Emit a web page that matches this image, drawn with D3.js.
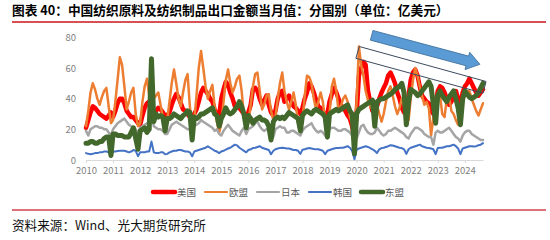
<!DOCTYPE html>
<html>
<head>
<meta charset="utf-8">
<script src="https://cdn.jsdelivr.net/npm/d3@7"></script>
<style>
  body { margin: 0; background: #fff; }
  svg { display: block; }
</style>
</head>
<body>
<svg id="chart" width="550" height="240"></svg>
<script>
// monthly values, Mar 2010 .. Nov 2024 (one row = Mar..Feb)
const firstMonth = new Date(2010, 2, 1);
const lastMonth = new Date(2024, 10, 1);
const yearLabels = [2010, 2011, 2012, 2013, 2014, 2015, 2016, 2017, 2018, 2019, 2020, 2021, 2022, 2023, 2024];
const yTicks = [0, 20, 40, 60, 80];
const seriesNames = ["美国", "欧盟", "日本", "韩国", "东盟"];

const usa = [
  21, 26, 31, 35, 34, 32, 30, 29, 28, 27, 29, 31,
  28, 32, 37, 40, 40, 37, 32, 30, 28, 28, 26, 24,
  23, 29, 34, 37, 38, 35, 32, 32, 34, 33, 31, 29,
  29, 31, 36, 40, 43, 41, 37, 33, 32, 30, 28, 24,
  30, 33, 38, 44, 47, 45, 43, 40, 38, 33, 30, 29,
  40, 46, 51, 49, 44, 40, 35, 34, 34, 32, 30, 29,
  31, 36, 46, 47, 45, 40, 36, 39, 42, 36, 31, 29,
  32, 40, 44, 45, 38, 40, 42, 38, 35, 34, 32, 30,
  34, 40, 44, 50, 48, 44, 39, 35, 34, 32, 29, 30,
  38, 43, 47, 44, 40, 36, 34, 32, 29, 27, 22, 14,
  30, 55, 60, 64, 62, 45, 38, 32, 31, 35, 40, 44,
  47, 50, 55, 57, 54, 50, 44, 40, 34, 31, 36, 42,
  52, 57, 59, 55, 48, 42, 40, 38, 37, 32, 30, 36,
  45, 48, 47, 44, 40, 36, 38, 42, 45, 40, 36, 44,
  48, 50, 53, 50, 47, 44, 42, 44, 46
];
const eu = [
  22, 32, 44, 50, 46, 40, 36, 41, 45, 47, 35, 24,
  26, 38, 52, 67, 62, 48, 33, 38, 44, 47, 30, 22,
  24, 38, 48, 53, 42, 38, 40, 42, 44, 36, 28, 25,
  26, 38, 50, 59, 50, 40, 35, 44, 52, 56, 35, 22,
  26, 42, 60, 71, 60, 48, 40, 45, 49, 35, 25, 18,
  24, 38, 52, 59, 50, 44, 48, 53, 55, 45, 28, 22,
  24, 36, 48, 56, 57, 45, 33, 36, 42, 43, 32, 26,
  28, 40, 50, 57, 45, 38, 33, 38, 44, 36, 24, 18,
  26, 42, 55, 54, 50, 40, 33, 38, 44, 38, 26, 18,
  30, 48, 53, 45, 32, 35, 40, 42, 38, 28, 24, 15,
  38, 74, 62, 55, 45, 39, 35, 33, 38, 36, 30, 25,
  30, 38, 45, 48, 42, 35, 30, 34, 40, 35, 28, 26,
  40, 52, 60, 55, 48, 42, 36, 38, 34, 16, 28, 32,
  40, 42, 30, 28, 40, 42, 32, 30, 26, 23, 30, 38,
  42, 45, 45, 40, 36, 32, 29, 33, 37
];
const japan = [
  19, 16, 20, 21, 22, 22, 21, 21, 20, 20, 18, 16,
  20, 22, 24, 25, 26, 27, 25, 23, 22, 21, 20, 17,
  21, 22, 23, 24, 23, 30, 22, 21, 20, 20, 19, 17,
  17, 20, 23, 24, 25, 24, 23, 22, 21, 20, 20, 17,
  22, 23, 24, 26, 25, 24, 23, 22, 21, 19, 20, 17,
  16, 19, 21, 23, 21, 19, 18, 17, 16, 19, 21, 17,
  20, 21, 22, 24, 25, 22, 20, 19, 20, 20, 18, 15,
  20, 21, 22, 21, 21, 18, 18, 19, 19, 18, 17, 16,
  19, 21, 22, 23, 24, 21, 19, 18, 19, 18, 16, 14,
  20, 21, 21, 20, 19, 19, 20, 20, 19, 18, 16, 14,
  14, 18, 22, 23, 20, 18, 17, 17, 18, 21, 19, 17,
  16, 17, 19, 19, 20, 21, 20, 19, 18, 17, 15, 14,
  17, 19, 21, 21, 20, 19, 17, 16, 15, 15, 10, 18,
  19, 18, 18, 19, 20, 21, 19, 17, 15, 14, 12, 16,
  18, 19, 19, 17, 16, 15, 14, 13, 13
];
const korea = [
  4.5, 4, 3.8, 4, 4.5, 4.5, 5, 5, 5.5, 5.5, 5, 2.4,
  5.5, 5.5, 5.8, 6, 6, 6, 5.5, 5, 5.5, 6.5, 6, 2.5,
  5, 5, 5, 5.5, 5.5, 12, 5, 4.5, 4.5, 5, 5, 3.8,
  4, 5, 5.5, 6, 6, 6.5, 6.5, 6, 5.5, 5.5, 5, 2.4,
  5.5, 6, 6.5, 7, 7.5, 8, 8.9, 8, 7, 6, 5.5, 4.5,
  5.5, 6, 6.7, 7.5, 8, 9, 10, 9.5, 8, 7, 6, 5,
  6.5, 7, 7.8, 8, 8.5, 9, 8, 7.5, 7, 6.5, 3.8, 6,
  7, 7.5, 7.8, 8, 7.8, 7.5, 7.5, 7, 6.5, 6.5, 6, 4,
  6.7, 7, 7.5, 7.8, 7.5, 7.2, 7, 7, 6.5, 6, 3.8, 6,
  6.5, 7, 7.5, 7.8, 7.8, 8, 8, 8.5, 9, 8, 6, 0.5,
  6.7, 7.5, 8, 8.5, 9, 8.5, 7.8, 7, 6, 4.5, 7, 7.8,
  8, 8.5, 9, 9.6, 9.5, 9, 8.5, 8, 7.8, 7, 4, 7,
  8, 8.5, 9, 9.5, 10, 9, 8.5, 8, 7.8, 7.5, 7, 3.8,
  7.8, 8, 8, 8.5, 9, 9, 9.5, 10, 9, 7.5, 3.8, 7.5,
  8, 8.5, 9, 9, 8.8, 9, 9.6, 10, 11
];
const asean = [
  11, 11, 12, 12, 11, 11, 12, 12, 14, 15, 15, 3,
  17, 17, 16, 16, 16, 15, 15, 15, 18, 21, 14, 7,
  19, 20, 21, 18, 20, 66, 25, 30, 28, 29, 28, 19,
  27, 27, 28, 30, 29, 28, 27, 29, 30, 32, 31, 13,
  28, 27, 28, 30, 30, 31, 32, 33, 34, 30, 29, 22,
  27, 30, 34, 31, 30, 31, 33, 35, 38, 35, 30, 21,
  29, 27, 24, 26, 27, 28, 26, 26, 25, 22, 13, 25,
  27, 28, 27, 28, 27, 29, 31, 30, 29, 28, 27, 19,
  29, 31, 32, 31, 30, 32, 33, 32, 31, 30, 28, 15,
  30, 31, 32, 33, 32, 33, 34, 35, 36, 32, 30, 4,
  30, 33, 34, 35, 36, 37, 38, 39, 22, 38, 39, 40,
  40, 41, 42, 43, 44, 46, 47, 48, 50, 44, 23, 38,
  46, 45, 44, 42, 43, 45, 47, 49, 51, 48, 36, 24,
  42, 45, 42, 40, 38, 41, 43, 45, 40, 34, 23, 40,
  45, 43, 41, 40, 41, 42, 44, 47, 50
];

const colors = ["#ff0000", "#ed7d31", "#a5a5a5", "#4472c4", "#43682b"];
const widths = [4.5, 2.5, 2.5, 2, 5];

// annotation: outlined band over recent peaks and a down-right arrow (date, value)
const bandCorners = [
  [new Date(2020, 3, 6), 74], [new Date(2024, 11, 12), 51.2],
  [new Date(2024, 10, 2), 43.6], [new Date(2020, 1, 20), 66.3]
];
const arrowFrom = [new Date(2020, 8, 20), 81.3];
const arrowTo = [new Date(2024, 8, 20), 62.4];

const months = d3.timeMonth.range(firstMonth, d3.timeMonth.offset(lastMonth, 1));
const series = [usa, eu, japan, korea, asean];

const svg = d3.select("#chart");
const fontCJK = "'Noto Sans CJK SC', 'Noto Sans', sans-serif";

const x = d3.scaleTime().domain([firstMonth, lastMonth]).range([86, 483]);
const y = d3.scaleLinear().domain([0, 80]).range([160, 37.3]);

// title + rules
svg.append("text")
  .attr("x", 12).attr("y", 15.3)
  .attr("font-family", fontCJK).attr("font-weight", 700)
  .attr("font-size", 12.7).attr("fill", "#000")
  .text("图表 40：中国纺织原料及纺织制品出口金额当月值：分国别（单位：亿美元）");
svg.append("line").attr("x1", 12).attr("x2", 546).attr("y1", 22).attr("y2", 22)
  .attr("stroke", "#c9161c").attr("stroke-width", 1.6);
svg.append("line").attr("x1", 12).attr("x2", 546).attr("y1", 210).attr("y2", 210)
  .attr("stroke", "#d0424a").attr("stroke-width", 1.6);
svg.append("text")
  .attr("x", 12).attr("y", 230)
  .attr("font-family", fontCJK).attr("font-size", 12.6).attr("fill", "#111")
  .text("资料来源：Wind、光大期货研究所");

// y axis labels (no line)
const yAxis = svg.append("g")
  .attr("transform", "translate(76,0)")
  .call(d3.axisLeft(y).tickValues(yTicks).tickSize(0).tickPadding(0));
yAxis.select(".domain").remove();
yAxis.selectAll("text").attr("fill", "#7f7f7f").attr("font-size", 9.5)
  .attr("font-family", fontCJK);

// x axis
const xAxis = svg.append("g")
  .attr("transform", "translate(0,160)")
  .call(d3.axisBottom(x)
    .tickValues(yearLabels.map(yr => new Date(yr, 2, 1)))
    .tickFormat(d3.timeFormat("%Y"))
    .tickSizeInner(3).tickSizeOuter(0).tickPadding(4));
xAxis.select(".domain").attr("stroke", "#d9d9d9");
xAxis.selectAll(".tick line").attr("stroke", "#d9d9d9");
xAxis.selectAll("text").attr("fill", "#7f7f7f").attr("font-size", 9.5)
  .attr("font-family", fontCJK);

// lines
const line = d3.line()
  .x((d, i) => x(months[i]))
  .y(d => y(d));

svg.append("g").selectAll("path")
  .data(series)
  .join("path")
  .attr("d", line)
  .attr("fill", "none")
  .attr("stroke", (d, i) => colors[i])
  .attr("stroke-width", (d, i) => widths[i])
  .attr("stroke-linejoin", "round")
  .attr("stroke-linecap", "round");

// band outline
svg.append("path")
  .attr("d", d3.line()(bandCorners.map(c => [x(c[0]), y(c[1])])) + "Z")
  .attr("fill", "none")
  .attr("stroke", "#3c4a5e")
  .attr("stroke-width", 1);

// arrow
const ax0 = x(arrowFrom[0]), ay0 = y(arrowFrom[1]);
const ax1 = x(arrowTo[0]), ay1 = y(arrowTo[1]);
const len = Math.hypot(ax1 - ax0, ay1 - ay0);
const ang = Math.atan2(ay1 - ay0, ax1 - ax0) * 180 / Math.PI;
const headLen = 13, bodyHalf = 5, headHalf = 9;
svg.append("path")
  .attr("transform", `translate(${ax0},${ay0}) rotate(${ang})`)
  .attr("d", `M0,${-bodyHalf} L${len - headLen},${-bodyHalf} L${len - headLen},${-headHalf}
    L${len},0 L${len - headLen},${headHalf} L${len - headLen},${bodyHalf} L0,${bodyHalf} Z`)
  .attr("fill", "#5b9bd5")
  .attr("stroke", "#41719c")
  .attr("stroke-width", 0.8);

// legend
const legend = svg.append("g").attr("transform", "translate(153,192)");
const item = legend.selectAll("g")
  .data(seriesNames)
  .join("g")
  .attr("transform", (d, i) => `translate(${i * 52},0)`);
item.append("line")
  .attr("x1", 0).attr("x2", 22)
  .attr("stroke", (d, i) => colors[i])
  .attr("stroke-width", (d, i) => widths[i] > 4 ? 4.5 : 2.2)
  .attr("stroke-linecap", "round");
item.append("text")
  .attr("x", 24).attr("y", 3.5)
  .attr("font-family", fontCJK).attr("font-size", 9.5).attr("fill", "#595959")
  .text(d => d);
</script>
</body>
</html>
